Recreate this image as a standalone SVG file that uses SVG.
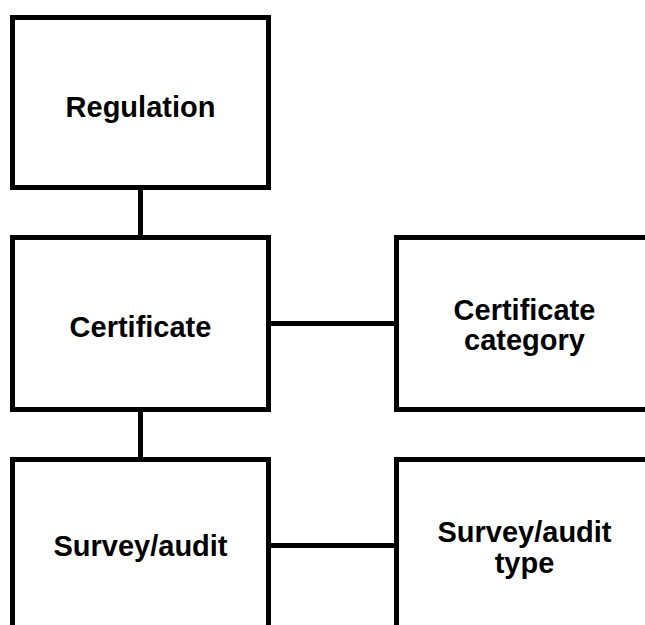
<svg xmlns="http://www.w3.org/2000/svg" width="645" height="625" viewBox="0 0 645 625">
<style>
.box{fill:#fff;stroke:#000;stroke-width:5}
.ln{stroke:#000;stroke-width:5;fill:none}
text{font-family:"Liberation Sans",Arial,sans-serif;font-weight:bold;font-size:29px;fill:#000;text-anchor:middle}
</style>
<rect width="645" height="625" fill="#fff"/>
<g id="connectors">
<line class="ln" x1="140.5" y1="187.5" x2="140.5" y2="237.5"/>
<line class="ln" x1="140.5" y1="409.5" x2="140.5" y2="459.5"/>
<line class="ln" x1="268.5" y1="323.5" x2="396.5" y2="323.5"/>
<line class="ln" x1="268.5" y1="545.5" x2="396.5" y2="545.5"/>
</g>
<g id="regulation">
<rect class="box" x="12.5" y="17.5" width="256" height="170"/>
<text x="140.5" y="117">Regulation</text>
</g>
<g id="certificate">
<rect class="box" x="12.5" y="237.5" width="256" height="172"/>
<text x="140.5" y="337">Certificate</text>
</g>
<g id="certificate-category">
<rect class="box" x="396.5" y="237.5" width="256" height="172"/>
<text x="524.5" y="320">Certificate</text>
<text x="524.5" y="350">category</text>
</g>
<g id="survey-audit">
<rect class="box" x="12.5" y="459.5" width="256" height="172"/>
<text x="140.5" y="556">Survey/audit</text>
</g>
<g id="survey-audit-type">
<rect class="box" x="396.5" y="459.5" width="256" height="172"/>
<text x="524.5" y="542">Survey/audit</text>
<text x="524.5" y="573">type</text>
</g>
</svg>
